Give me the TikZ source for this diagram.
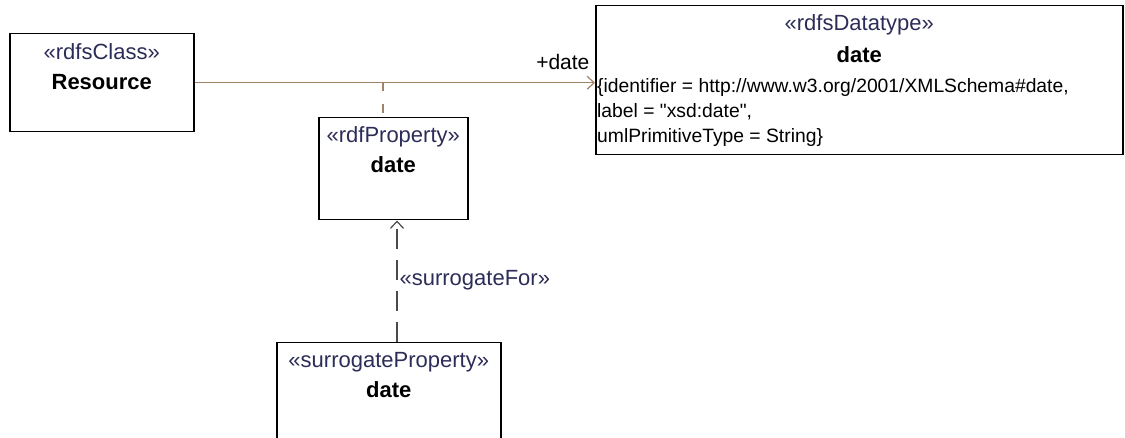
\documentclass[tikz,border=0pt]{standalone}
\usepackage{fontspec}
\setmainfont{Liberation Sans}
\usetikzlibrary{positioning,arrows.meta,calc}
\definecolor{cStereo}{HTML}{2C2C58}
\definecolor{cAssoc}{HTML}{A08468}
\definecolor{cDep}{HTML}{4A4A4A}

\begin{document}
\begin{tikzpicture}[
  x=1pt,y=-1pt,
  cls/.style={draw,line width=1.5pt,rectangle,anchor=north west,inner sep=0pt},
  stereo/.style={font=\fontsize{22}{25}\selectfont,text=cStereo,inner sep=0pt},
  clsname/.style={font=\fontsize{22}{26}\selectfont\bfseries,text=black,inner sep=0pt},
  tagval/.style={font=\fontsize{19.3}{25}\selectfont,align=left,inner sep=0pt,anchor=west},
  assoc/.style={cAssoc,line width=1.2pt},
  dep/.style={cDep,line width=1.2pt,dash pattern=on 20pt off 11pt},
  opentip/.style={-{Straight Barb[length=7pt,width=13pt]}}
]
\useasboundingbox (0,0) rectangle (1125,438);
% --- classes ---
\node[cls,minimum width=184pt,minimum height=98pt] (res) at (9,33) {};
\node[stereo] (resS) at ($(res.north)+(0,19)$) {«rdfsClass»};
\node[clsname] (resN) at ($(res.north)+(0,49)$) {Resource};

\node[cls,minimum width=527pt,minimum height=149pt] (dt) at (595,5) {};
\node[stereo] (dtS) at ($(dt.north)+(0,20)$) {«rdfsDatatype»};
\node[clsname] (dtN) at ($(dt.north)+(0,50)$) {date};
\node[tagval] (dtT) at (597,113)
     {\{identifier = http://www.w3.org/2001/XMLSchema\#date,\\
      label = \textquotedbl xsd:date\textquotedbl,\\
      umlPrimitiveType = String\}};

\node[cls,minimum width=149pt,minimum height=102pt] (prop) at (318,117) {};
\node[stereo] (propS) at ($(prop.north)+(0,20)$) {«rdfProperty»};
\node[clsname] (propN) at ($(prop.north)+(0,48)$) {date};

% bottom box runs off the page
\node[cls,minimum width=224pt,minimum height=130pt] (sur) at (276,342) {};
\node[stereo] (surS) at ($(sur.north)+(0,20)$) {«surrogateProperty»};
\node[clsname] (surN) at ($(sur.north)+(0,48)$) {date};

% --- connectors ---
\draw[assoc,opentip] (res.east) -- (res.east -| dt.west)
     node[pos=1,anchor=south east,inner sep=0pt,xshift=-5pt,yshift=12pt,
          font=\fontsize{21}{24}\selectfont,text=black] {+date};
\coordinate (ac) at (383,82);
\draw[assoc,dash pattern=on 9pt off 13pt] (ac) -- (ac |- prop.north);
\coordinate (dp) at (397,342);
\draw[dep,opentip] (dp) -- (dp |- prop.south)
     node[stereo,pos=0.51,anchor=west,xshift=2pt] {«surrogateFor»};
\end{tikzpicture}
\end{document}
